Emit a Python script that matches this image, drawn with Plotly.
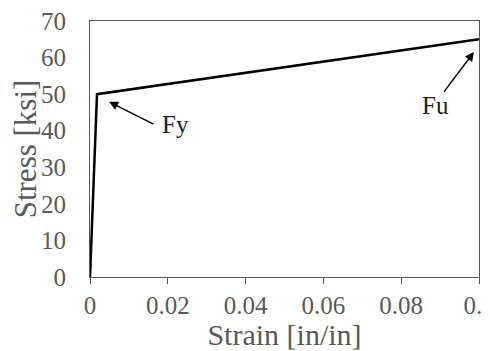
import plotly.graph_objects as go

# bilinear stress-strain curve
strain = [0, 0.0018, 0.1]
stress = [0, 50, 65]

xticks = [0, 0.02, 0.04, 0.06, 0.08, 0.1]
xticktext = ["0", "0.02", "0.04", "0.06", "0.08", "0.1"]
yticks = [0, 10, 20, 30, 40, 50, 60, 70]

GRAY = "#595959"
FONT = "Liberation Serif"
PAGE = 8  # default body margin of the html page shifts the figure

fig = go.Figure()
fig.add_trace(go.Scatter(x=strain, y=stress, mode="lines",
                         line=dict(color="black", width=2.5), hoverinfo="skip"))

# arrows (head at data point, tail offset in px), text placed separately
arrows = [(0.0049, 47.9, 46, 23), (0.0987, 61.5, -31, 41)]
for x, y, ax, ay in arrows:
    fig.add_annotation(x=x, y=y, ax=ax, ay=ay, text="", showarrow=True,
                       arrowhead=2, arrowsize=1.2, arrowwidth=1.5, arrowcolor="black")
fig.add_annotation(x=0.0221, y=41.6, text="Fy", showarrow=False,
                   font=dict(family=FONT, size=25, color="#222"))
fig.add_annotation(x=0.0887, y=47.0, text="Fu", showarrow=False,
                   font=dict(family=FONT, size=25, color="#222"))

fig.update_layout(
    width=490 - PAGE, height=351 - PAGE, showlegend=False,
    margin=dict(l=90 - PAGE, r=11, t=21 - PAGE, b=74),
    paper_bgcolor="white", plot_bgcolor="white",
    font=dict(family=FONT, size=25, color=GRAY),
    xaxis=dict(range=[0, 0.1], tickvals=xticks, ticktext=xticktext,
               automargin=False, ticklabeloverflow="allow",
               showgrid=False, zeroline=False, showline=True, mirror=True,
               linecolor=GRAY, linewidth=1, ticks="outside", ticklen=6,
               tickcolor=GRAY, ticklabelstandoff=0,
               title=dict(text="Strain [in/in]", standoff=0, font=dict(size=30))),
    yaxis=dict(range=[0, 70], tickvals=yticks, showgrid=False, zeroline=False,
               automargin=False, ticklabeloverflow="allow",
               showline=True, mirror=True, linecolor=GRAY, linewidth=1,
               ticks="", ticklabelstandoff=18,
               title=dict(text="Stress [ksi]", standoff=0, font=dict(size=31))),
)

fig.write_html("out.html")
